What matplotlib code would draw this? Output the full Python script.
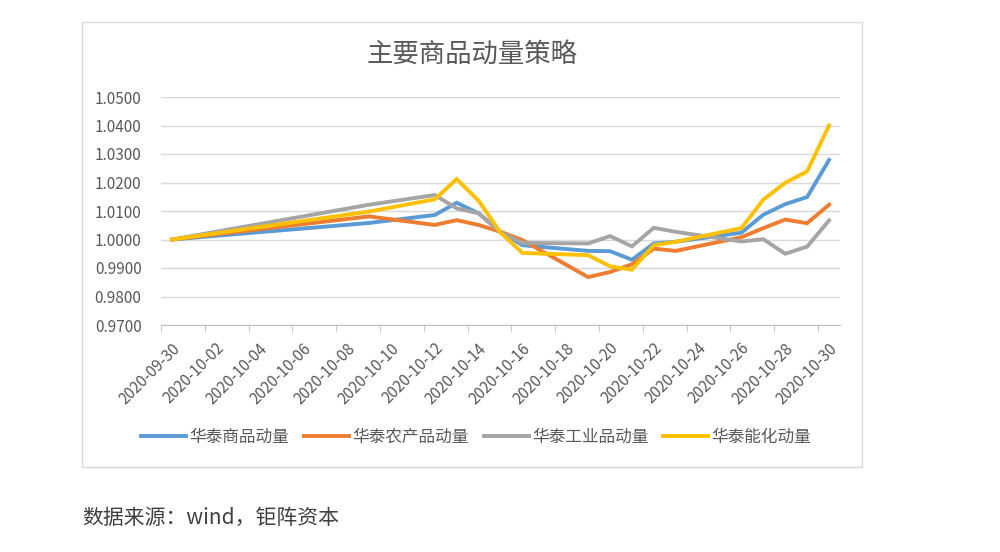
import pandas as pd
import matplotlib
matplotlib.use("Agg")
import matplotlib.pyplot as plt
from matplotlib.patches import Rectangle
from matplotlib.transforms import ScaledTranslation

plt.rcParams["font.family"] = ["Noto Sans CJK SC", "DejaVu Sans"]

# 交易日
trade_dates = ["2020-09-30", "2020-10-09", "2020-10-12", "2020-10-13", "2020-10-14",
               "2020-10-15", "2020-10-16", "2020-10-19", "2020-10-20", "2020-10-21",
               "2020-10-22", "2020-10-23", "2020-10-26", "2020-10-27", "2020-10-28",
               "2020-10-29", "2020-10-30"]

# 各策略净值
commodity = [1.0000, 1.0058, 1.0086, 1.0129, 1.0092, 1.0027, 0.9980, 0.9960, 0.9959,
             0.9929, 0.9986, 0.9992, 1.0024, 1.0087, 1.0124, 1.0149, 1.0279]
agri = [1.0000, 1.0081, 1.0051, 1.0068, 1.0051, 1.0027, 0.9998, 0.9868, 0.9886,
        0.9913, 0.9968, 0.9960, 1.0008, 1.0040, 1.0070, 1.0057, 1.0122]
industrial = [1.0000, 1.0122, 1.0156, 1.0109, 1.0092, 1.0025, 0.9988, 0.9986, 1.0012,
              0.9976, 1.0041, 1.0027, 0.9993, 1.0001, 0.9950, 0.9975, 1.0067]
energy = [1.0000, 1.0098, 1.0141, 1.0212, 1.0136, 1.0024, 0.9953, 0.9945, 0.9906,
          0.9894, 0.9980, 0.9992, 1.0040, 1.0140, 1.0199, 1.0239, 1.0400]

series_names = ["华泰商品动量", "华泰农产品动量", "华泰工业品动量", "华泰能化动量"]
colors = ["#5B9BD5", "#ED7D31", "#A5A5A5", "#FFC000"]

# 日期轴：以2020-09-30为起点的天数
start = pd.Timestamp("2020-09-30")
days = [(pd.Timestamp(d) - start).days for d in trade_dates]
label_dates = pd.date_range("2020-09-30", "2020-10-30", freq="2D")
label_pos = [(d - start).days for d in label_dates]

fig = plt.figure(figsize=(10, 5.52), dpi=100)
fig.patch.set_facecolor("white")

# 图表外框
fig.patches.append(Rectangle((0.082, 1 - 467 / 552), 0.780, 445 / 552,
                             transform=fig.transFigure, fill=False,
                             edgecolor="#D9D9D9", linewidth=1))

ax = fig.add_axes([0.161, 1 - 325 / 552, 0.679, 228 / 552])

for vals, name, c in zip([commodity, agri, industrial, energy], series_names, colors):
    ax.plot(days, vals, color=c, linewidth=2.8, label=name, solid_joinstyle="miter")

ax.set_xlim(-0.5, 30.5)
ax.set_ylim(0.97, 1.05)
ax.set_yticks([0.97 + 0.01 * i for i in range(9)])
ax.set_yticklabels([f"{0.97 + 0.01 * i:.4f}" for i in range(9)])
ax.grid(axis="y", color="#D9D9D9", linewidth=1)
ax.set_axisbelow(True)

ax.set_xticks(label_pos)
ax.set_xticklabels([d.strftime("%Y-%m-%d") for d in label_dates], rotation=45,
                   ha="right", va="center", rotation_mode="anchor")
ax.set_xticks([p - 0.5 for p in label_pos], minor=True)
ax.tick_params(axis="x", which="major", length=0, pad=12, labelsize=11, labelcolor="#595959")
ax.tick_params(axis="x", which="minor", length=5, color="#BFBFBF", direction="out")
ax.tick_params(axis="y", length=0, pad=14, labelsize=11, labelcolor="#595959")
shift = ScaledTranslation(4 / 72, -3 / 72, fig.dpi_scale_trans)
for lab in ax.get_xticklabels():
    lab.set_transform(lab.get_transform() + shift)

for s in ["top", "right", "left"]:
    ax.spines[s].set_visible(False)
ax.spines["bottom"].set_color("#BFBFBF")

fig.text(0.472, 1 - 55 / 552, "主要商品动量策略", ha="center", va="center",
         fontsize=19, color="#595959", fontweight="light")

fig.legend(loc="center", bbox_to_anchor=(0.476, 1 - 437 / 552), ncol=4, frameon=False,
           fontsize=12, labelcolor="#595959", handlelength=2.7, handletextpad=0.2,
           columnspacing=0.9)

fig.text(0.082, 1 - 518 / 552, "数据来源：wind，钜阵资本", ha="left", va="center",
         fontsize=15, color="#404040")

fig.savefig("out.png", dpi=100, facecolor="white")
